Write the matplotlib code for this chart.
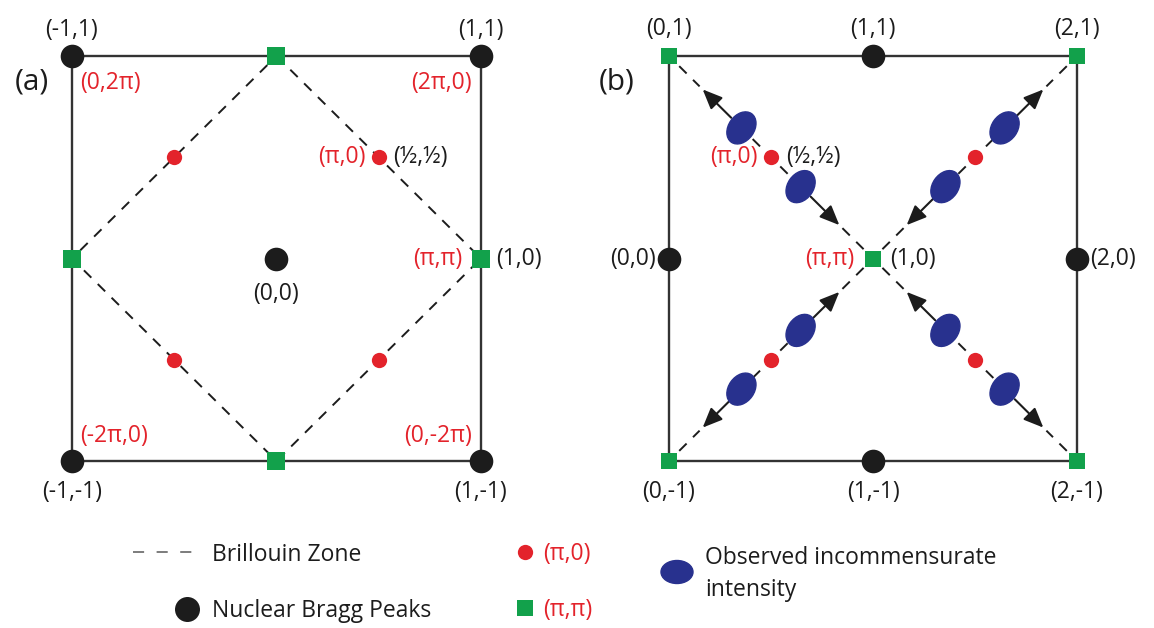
import matplotlib.pyplot as plt
from matplotlib.patches import Ellipse, FancyArrowPatch

plt.rcParams['font.family'] = ['Open Sans', 'DejaVu Sans']
plt.rcParams['lines.scale_dashes'] = False

RED = '#e3232b'
GREEN = '#12a14b'
BLUE = '#28318e'
DARK = '#1c1c1c'
EDGE = '#333333'
PX = 0.72  # pixel -> point at dpi 100
FS = 16.5

# panel (a): reciprocal lattice points (H, K)
a_cell = [(-1, -1), (1, -1), (1, 1), (-1, 1), (-1, -1)]
a_bz = [(0, 1), (1, 0), (0, -1), (-1, 0), (0, 1)]
a_bragg = [(-1, 1), (1, 1), (-1, -1), (1, -1), (0, 0)]
a_pipi = [(0, 1), (1, 0), (0, -1), (-1, 0)]
a_pi0 = [(-0.5, 0.5), (0.5, 0.5), (-0.5, -0.5), (0.5, -0.5)]

# panel (b)
b_cell = [(0, -1), (2, -1), (2, 1), (0, 1), (0, -1)]
b_bragg = [(1, 1), (0, 0), (2, 0), (1, -1)]
b_pipi = [(0, 1), (2, 1), (1, 0), (0, -1), (2, -1)]
b_pi0 = [(0.5, 0.5), (1.5, 0.5), (0.5, -0.5), (1.5, -0.5)]
b_centre = (1, 0)
b_incomm = [(0.355, 0.645), (0.645, 0.355), (1.645, 0.645), (1.355, 0.355),
            (0.355, -0.645), (0.645, -0.355), (1.645, -0.645), (1.355, -0.355)]

# labels: text, x, y, dx(px), dy(px), ha, colour
a_labels = [
    ('(-1,1)', -1, 1, 0, 26, 'center', DARK),
    ('(1,1)', 1, 1, 0, 26, 'center', DARK),
    ('(-1,-1)', -1, -1, 0, -31, 'center', DARK),
    ('(1,-1)', 1, -1, 0, -31, 'center', DARK),
    ('(0,0)', 0, 0, 0, -35, 'center', DARK),
    ('(0,2π)', -1, 1, 8, -27, 'left', RED),
    ('(2π,0)', 1, 1, -9, -27, 'right', RED),
    ('(-2π,0)', -1, -1, 8, 25, 'left', RED),
    ('(0,-2π)', 1, -1, -9, 25, 'right', RED),
    ('(π,0)', 0.5, 0.5, -13, 0, 'right', RED),
    ('(½,½)', 0.5, 0.5, 14, 0, 'left', DARK),
    ('(π,π)', 1, 0, -19, 0, 'right', RED),
    ('(1,0)', 1, 0, 15, 0, 'left', DARK),
]
b_labels = [
    ('(0,1)', 0, 1, 0, 27, 'center', DARK),
    ('(1,1)', 1, 1, 0, 27, 'center', DARK),
    ('(2,1)', 2, 1, 0, 27, 'center', DARK),
    ('(0,-1)', 0, -1, 0, -31, 'center', DARK),
    ('(1,-1)', 1, -1, 0, -31, 'center', DARK),
    ('(2,-1)', 2, -1, 0, -31, 'center', DARK),
    ('(0,0)', 0, 0, -13, 0, 'right', DARK),
    ('(2,0)', 2, 0, 13, 0, 'left', DARK),
    ('(π,π)', 1, 0, -19, 0, 'right', RED),
    ('(1,0)', 1, 0, 17, 0, 'left', DARK),
    ('(π,0)', 0.5, 0.5, -13, 0, 'right', RED),
    ('(½,½)', 0.5, 0.5, 15, 0, 'left', DARK),
]

fig = plt.figure(figsize=(11.54, 6.28), dpi=100)
ax_a = fig.add_axes([0.00923, 0.1853, 0.4607, 0.8061])
ax_b = fig.add_axes([0.5267, 0.1853, 0.4596, 0.8061])
for ax in (ax_a, ax_b):
    ax.set_ylim(-1.25, 1.25)
    ax.axis('off')
ax_a.set_xlim(-1.3, 1.3)
ax_b.set_xlim(-0.3, 2.3)


def xy(pts):
    return [p[0] for p in pts], [p[1] for p in pts]


def put_labels(ax, labels):
    for txt, x, y, dx, dy, ha, col in labels:
        ax.annotate(txt, (x, y), xytext=(dx * PX, dy * PX), textcoords='offset points',
                    ha=ha, va='center', color=col, fontsize=FS, annotation_clip=False)


# ---- (a) ----
ax_a.plot(*xy(a_cell), color=EDGE, lw=1.7, zorder=1)
ax_a.plot(*xy(a_bz), color=DARK, lw=1.4, dashes=(7.5, 6.5), zorder=1)
ax_a.plot(*xy(a_bragg), 'o', color=DARK, ms=17, mew=0, ls='none', zorder=3)
ax_a.plot(*xy(a_pipi), 's', color=GREEN, ms=12.5, mew=0, ls='none', zorder=3)
ax_a.plot(*xy(a_pi0), 'o', color=RED, ms=11, mew=0, ls='none', zorder=3)
put_labels(ax_a, a_labels)

# ---- (b) ----
ax_b.plot(*xy(b_cell), color=EDGE, lw=1.7, zorder=1)
# dashed diagonals: only visible between the arrows
spans = [(0.05, 0.15), (0.41, 0.59), (0.85, 0.96)]
for cx, cy in [(0, 1), (2, 1), (0, -1), (2, -1)]:
    for t0, t1 in spans:
        xs = [cx + t0 * (b_centre[0] - cx), cx + t1 * (b_centre[0] - cx)]
        ys = [cy + t0 * (b_centre[1] - cy), cy + t1 * (b_centre[1] - cy)]
        ax_b.plot(xs, ys, color=DARK, lw=1.4, dashes=(7.5, 6.5), zorder=1)

for ex, ey in b_incomm:
    ax_b.add_patch(Ellipse((ex, ey), 0.172, 0.126, angle=55, color=BLUE, zorder=4))
    # arrow points away from the nearest (pi,0) point
    px = min(b_pi0, key=lambda p: (p[0] - ex) ** 2 + (p[1] - ey) ** 2)
    sx = 1 if ex > px[0] else -1
    sy = 1 if ey > px[1] else -1
    arr = FancyArrowPatch((ex + sx * 0.05, ey + sy * 0.05), (ex + sx * 0.19, ey + sy * 0.19),
                          arrowstyle='-|>,head_length=0.75,head_width=0.32', mutation_scale=16,
                          lw=1.5, color=DARK, shrinkA=0, shrinkB=0, zorder=3)
    ax_b.add_patch(arr)

ax_b.plot(*xy(b_bragg), 'o', color=DARK, ms=17, mew=0, ls='none', zorder=3)
ax_b.plot(*xy(b_pipi), 's', color=GREEN, ms=12, mew=0, ls='none', zorder=3)
ax_b.plot(*xy(b_pi0), 'o', color=RED, ms=11, mew=0, ls='none', zorder=3)
put_labels(ax_b, b_labels)

# ---- panel letters and legend, laid out in pixels ----
lax = fig.add_axes([0, 0, 1, 1], zorder=-1)
lax.set_xlim(0, 1154)
lax.set_ylim(628, 0)
lax.axis('off')
lax.text(32, 82, '(a)', fontsize=21.5, ha='center', va='center', color=DARK)
lax.text(617, 82, '(b)', fontsize=21.5, ha='center', va='center', color=DARK)

lax.plot([133, 193], [552, 552], color='#666666', lw=1.2, dashes=(8, 9))
lax.text(212, 561, 'Brillouin Zone', fontsize=FS, va='baseline', color=DARK)
lax.plot([187], [609], 'o', color=DARK, ms=18, mew=0)
lax.text(212, 617, 'Nuclear Bragg Peaks', fontsize=FS, va='baseline', color=DARK)
lax.plot([525], [552], 'o', color=RED, ms=11, mew=0)
lax.text(543, 560, '(π,0)', fontsize=FS, va='baseline', color=RED)
lax.plot([525], [608], 's', color=GREEN, ms=12, mew=0)
lax.text(543, 616, '(π,π)', fontsize=FS, va='baseline', color=RED)
lax.add_patch(Ellipse((677, 572), 32, 23, color=BLUE))
lax.text(705, 564, 'Observed incommensurate', fontsize=FS, va='baseline', color=DARK)
lax.text(705, 596, 'intensity', fontsize=FS, va='baseline', color=DARK)

fig.savefig('out.png', dpi=100)
